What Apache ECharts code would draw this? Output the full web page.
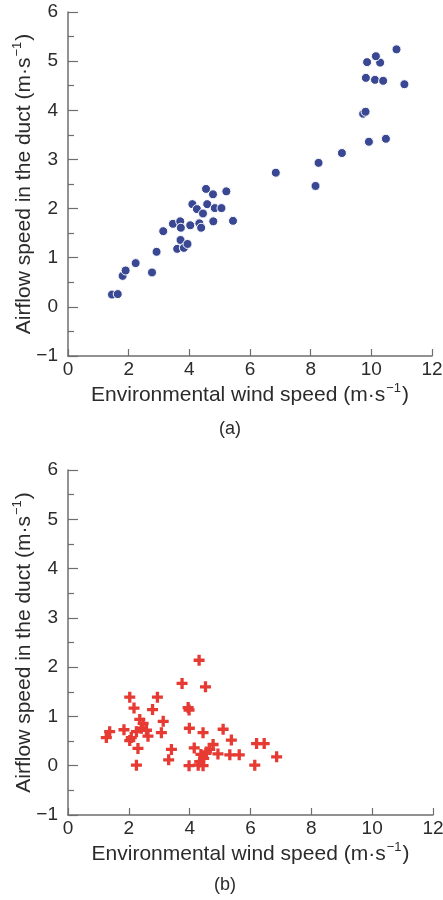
<!DOCTYPE html>
<html>
<head>
<meta charset="utf-8">
<script src="https://cdn.jsdelivr.net/npm/echarts@6/dist/echarts.min.js"></script>
<style>
html,body{margin:0;padding:0;background:#fff;}
#chart{width:443px;height:900px;}
</style>
</head>
<body>
<div id="chart"></div>
<script>
// Panel (a): environmental wind speed vs airflow speed in the duct
var xA = [1.45,1.64,1.80,1.90,2.23,2.77,2.92,3.14,3.46,3.60,3.70,3.72,3.71,3.82,3.94,4.03,4.10,4.25,4.33,4.39,4.45,4.55,4.59,4.78,4.79,4.84,5.06,5.22,5.44,6.85,8.16,8.26,9.03,9.73,9.81,9.92,10.48,9.82,10.12,10.39,11.09,9.86,10.29,10.15,10.83];
var yA = [0.25,0.26,0.63,0.74,0.89,0.70,1.12,1.54,1.69,1.18,1.74,1.61,1.36,1.20,1.28,1.66,2.09,1.99,1.70,1.61,1.90,2.40,2.09,2.29,1.74,2.01,2.01,2.35,1.75,2.73,2.46,2.93,3.13,3.93,3.97,3.36,3.42,4.66,4.62,4.60,4.53,4.98,4.97,5.10,5.24];
// Panel (b)
var xB = [1.26,1.37,1.84,2.03,2.03,2.08,2.17,2.25,2.25,2.30,2.36,2.41,2.47,2.58,2.63,2.78,2.94,3.07,3.13,3.31,3.40,3.75,3.95,3.98,3.99,3.98,4.15,4.28,4.31,4.33,4.37,4.44,4.44,4.46,4.52,4.55,4.66,4.77,4.93,5.10,5.32,5.37,5.63,6.14,6.20,6.45,6.86];
var yB = [0.57,0.69,0.73,1.39,0.51,0.57,1.17,0.69,0.01,0.35,0.94,0.76,0.86,0.72,0.60,1.14,1.39,0.67,0.90,0.12,0.33,1.67,1.18,1.13,0.76,0.00,0.36,0.01,2.14,0.08,0.23,0.00,0.67,0.15,1.60,0.28,0.33,0.43,0.24,0.74,0.22,0.52,0.22,0.01,0.45,0.45,0.18];
var xTicks = [0,2,4,6,8,10,12];
var yTicks = [-1,0,1,2,3,4,5,6];
var xTitle = 'Environmental wind speed (m·s';
var yTitle = 'Airflow speed in the duct (m·s';
var panelLabels = ['(a)','(b)'];

function pairs(xs, ys){ return xs.map(function(v,i){ return [v, ys[i]]; }); }

var axisColor = '#6e6e6e';
var textColor = '#2b2b2b';
var font = 'Liberation Sans, Arial, sans-serif';

function fmt(v){ return String(v).replace('-', '\u2212'); }

function richName(base){
  return '{a|' + base + '}{s|\u22121}{a|)}';
}
var richStyle = {
  a:{fontSize:21,fontFamily:font,color:textColor,lineHeight:24,verticalAlign:'bottom'},
  s:{fontSize:13,fontFamily:font,color:textColor,lineHeight:24,verticalAlign:'top',padding:[0,1,10,1]}
};

function xAxis(idx){
  return {
    type:'value', gridIndex:idx, min:xTicks[0], max:xTicks[xTicks.length-1], interval:2,
    axisLine:{show:true,onZero:false,lineStyle:{color:axisColor,width:1.5}},
    axisTick:{show:true,inside:true,length:7,lineStyle:{color:axisColor,width:1.2}},
    minorTick:{show:false},
    splitLine:{show:false},
    axisLabel:{fontSize:19,fontFamily:font,color:textColor,margin:4,formatter:fmt},
    name:richName(xTitle), nameLocation:'middle', nameGap:26, nameMoveOverlap:false,
    nameTextStyle:{rich:richStyle}
  };
}
function yAxis(idx){
  return {
    type:'value', gridIndex:idx, min:yTicks[0], max:yTicks[yTicks.length-1], interval:1,
    axisLine:{show:true,onZero:false,lineStyle:{color:axisColor,width:1.5}},
    axisTick:{show:true,inside:true,length:10,lineStyle:{color:axisColor,width:1.2}},
    minorTick:{show:true,splitNumber:2,length:6,lineStyle:{color:axisColor,width:1.2}},
    splitLine:{show:false},
    axisLabel:{fontSize:19,fontFamily:font,color:textColor,margin:10,formatter:fmt},
    name:richName(yTitle), nameLocation:'middle', nameGap:33, nameRotate:90, nameMoveOverlap:false,
    nameTextStyle:{rich:richStyle}
  };
}

var plusPath = 'path://M35,0 L65,0 L65,35 L100,35 L100,65 L65,65 L65,100 L35,100 L35,65 L0,65 L0,35 L35,35 Z';

var chart = echarts.init(document.getElementById('chart'), null, {renderer:'canvas'});
chart.setOption({
  backgroundColor:'#ffffff',
  animation:false,
  grid:[
    {left:68,right:11,top:12,height:344,containLabel:false,outerBoundsMode:'none'},
    {left:68,right:10,top:470,height:345,containLabel:false,outerBoundsMode:'none'}
  ],
  xAxis:[xAxis(0), xAxis(1)],
  yAxis:[yAxis(0), yAxis(1)],
  series:[
    {type:'scatter',xAxisIndex:0,yAxisIndex:0,data:pairs(xA,yA),symbol:'circle',symbolSize:9,
     itemStyle:{color:'#3a4894',borderColor:'#ffffff',borderWidth:1,opacity:1}},
    {type:'scatter',xAxisIndex:1,yAxisIndex:1,data:pairs(xB,yB),symbol:plusPath,symbolSize:11,
     itemStyle:{color:'#e63a33',opacity:1}}
  ],
  graphic:[
    {type:'text',left:219,top:420,style:{text:panelLabels[0],font:'18px '+font,fill:textColor}},
    {type:'text',left:214,top:876,style:{text:panelLabels[1],font:'18px '+font,fill:textColor}}
  ]
});
</script>
</body>
</html>
